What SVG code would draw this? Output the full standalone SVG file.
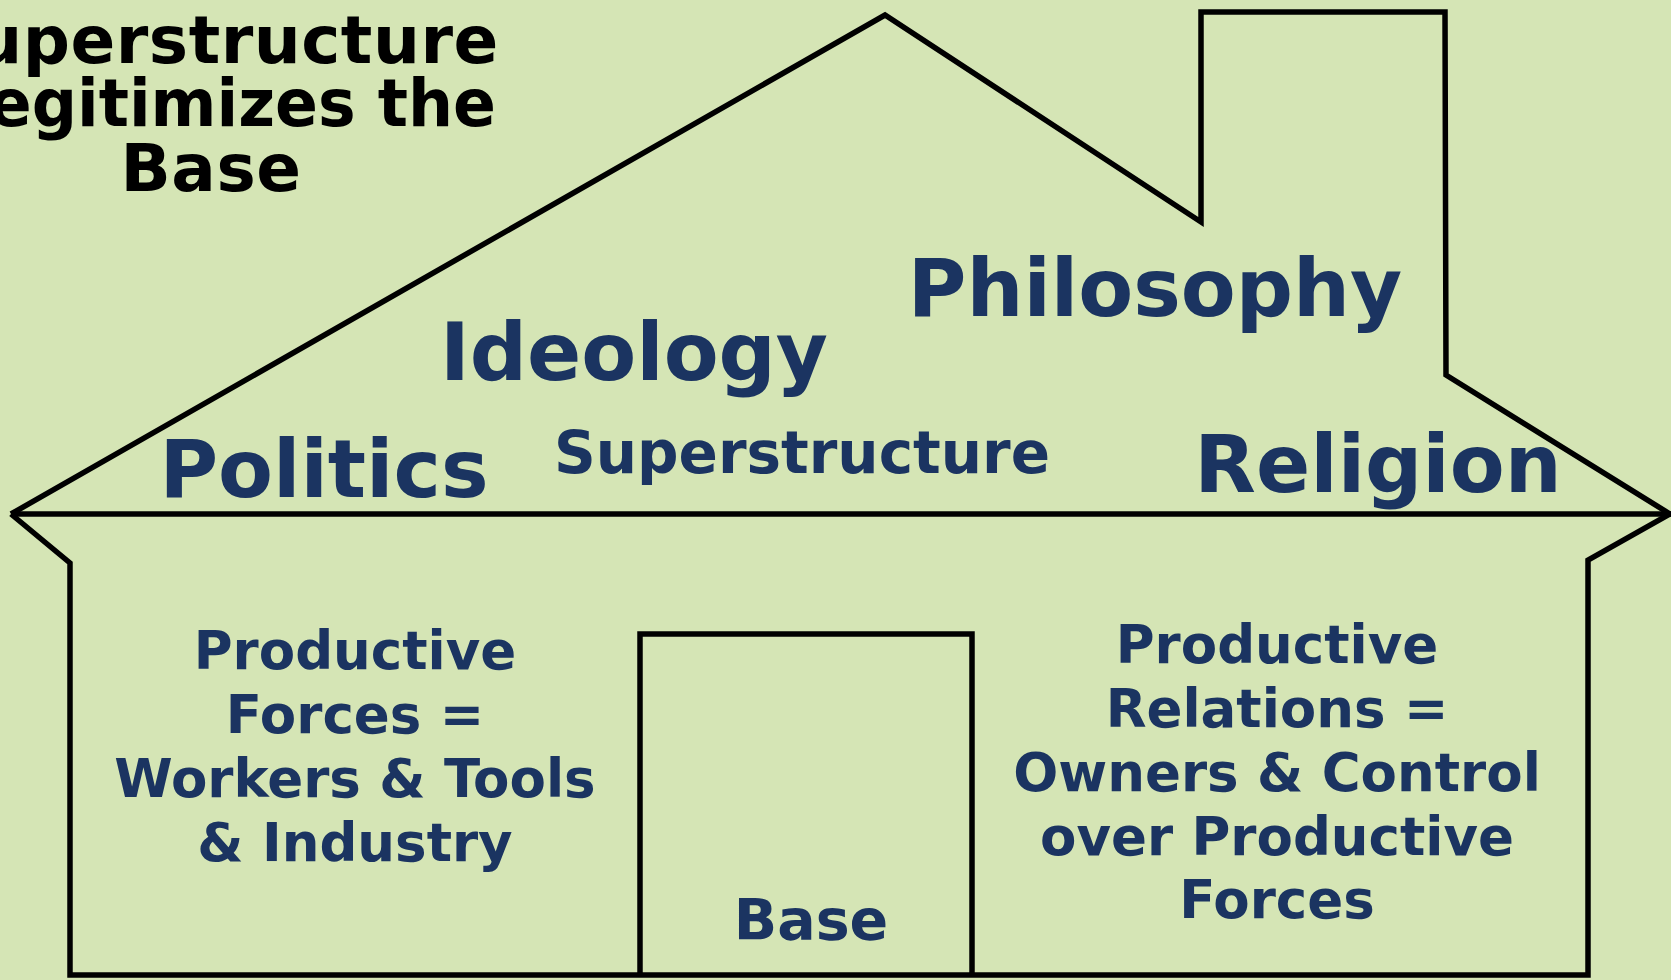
<svg xmlns="http://www.w3.org/2000/svg" width="1671" height="980" viewBox="0 0 1671 980">
  <style>
    .ln { fill: none; stroke: #000; stroke-width: 5.5; stroke-linejoin: miter; }
    .t { font-family: "DejaVu Sans", Verdana, sans-serif; font-weight: bold; fill: #1b3461; text-anchor: middle; }
    .k { font-family: "DejaVu Sans", Verdana, sans-serif; font-weight: bold; fill: #000; text-anchor: middle; font-size: 66px; letter-spacing: 0.5px; }
    .s { font-size: 53px; }
  </style>
  <rect width="1671" height="980" fill="#d5e5b5"/>
  <g id="house">
    <path class="ln" d="M 11 514 L 885 15 L 1201 222 L 1201 12 L 1445 12 L 1446 375 L 1670 514"/>
    <path class="ln" d="M 11 514 L 1671 514"/>
    <path class="ln" d="M 11 514 L 70 563 L 70 975 L 1588 975 L 1588 560 L 1670 514"/>
    <path class="ln" d="M 640 975 L 640 634 L 972 634 L 972 975"/>
  </g>
  <g id="caption">
    <text class="k" x="213" y="63">Superstructure</text>
    <text class="k" x="-33" y="126" style="text-anchor:start;letter-spacing:0" textLength="529" lengthAdjust="spacingAndGlyphs">legitimizes the</text>
    <text class="k" x="211" y="191">Base</text>
  </g>
  <g id="politics"><text class="t" x="324" y="497" font-size="80">Politics</text></g>
  <g id="ideology"><text class="t" x="634" y="380" font-size="80">Ideology</text></g>
  <g id="philosophy"><text class="t" x="1155" y="316" font-size="80">Philosophy</text></g>
  <g id="superstructure"><text class="t" x="802" y="473" font-size="58">Superstructure</text></g>
  <g id="religion"><text class="t" x="1378" y="492" font-size="80">Religion</text></g>
  <g id="productive-forces">
    <text class="t s" x="355" y="669">Productive</text>
    <text class="t s" x="355" y="733">Forces =</text>
    <text class="t s" x="355" y="797">Workers &amp; Tools</text>
    <text class="t s" x="355" y="861">&amp; Industry</text>
  </g>
  <g id="productive-relations">
    <text class="t s" x="1277" y="663">Productive</text>
    <text class="t s" x="1277" y="727">Relations =</text>
    <text class="t s" x="1277" y="791">Owners &amp; Control</text>
    <text class="t s" x="1277" y="855">over Productive</text>
    <text class="t s" x="1277" y="918">Forces</text>
  </g>
  <g id="base"><text class="t" x="811" y="940" font-size="57">Base</text></g>
</svg>
